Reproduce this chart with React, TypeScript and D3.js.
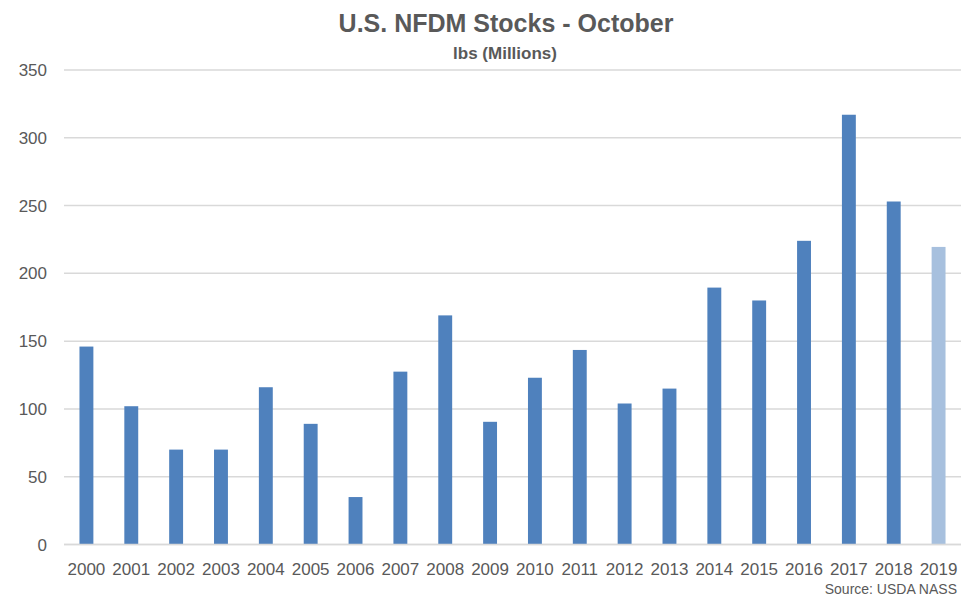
import React, { useEffect, useRef } from 'react';
import * as d3 from 'd3';

const years = ['2000', '2001', '2002', '2003', '2004', '2005', '2006', '2007', '2008', '2009',
  '2010', '2011', '2012', '2013', '2014', '2015', '2016', '2017', '2018', '2019'];
const stocks = [146, 102, 70, 70, 116, 89, 35, 127.5, 169, 90.5,
  123, 143.5, 104, 115, 189.5, 180, 224, 317, 253, 219.5];
const yTicks = [0, 50, 100, 150, 200, 250, 300, 350];

const width = 975;
const height = 601;
const margin = { top: 70, right: 14, bottom: 56.5, left: 64 };

export default function App() {
  const svgRef = useRef<SVGSVGElement>(null);

  function loadGraph(elm: SVGSVGElement) {
    const svg = d3.select(elm);
    svg.selectAll('*').remove();

    const x = d3.scaleBand<string>()
      .domain(years)
      .range([margin.left, width - margin.right])
      .paddingInner(0.69)
      .paddingOuter(0.345);

    const y = d3.scaleLinear()
      .domain([0, 350])
      .range([height - margin.bottom, margin.top]);

    // gridlines
    svg.append('g')
      .selectAll('line')
      .data(yTicks)
      .enter()
      .append('line')
      .attr('x1', margin.left)
      .attr('x2', width - margin.right)
      .attr('y1', d => y(d))
      .attr('y2', d => y(d))
      .attr('stroke', '#d9d9d9')
      .attr('stroke-width', 1.5);

    svg.append('g')
      .selectAll('text')
      .data(yTicks)
      .enter()
      .append('text')
      .text(d => d)
      .attr('x', 47)
      .attr('y', d => y(d) + 6)
      .attr('text-anchor', 'end')
      .attr('font-size', '17px')
      .attr('fill', '#595959');

    svg.append('g')
      .selectAll('rect')
      .data(stocks)
      .enter()
      .append('rect')
      .attr('x', (d, i) => x(years[i])!)
      .attr('width', x.bandwidth())
      .attr('y', d => y(d))
      .attr('height', d => y(0) - y(d))
      .attr('fill', (d, i) => i === years.length - 1 ? '#a7c0de' : '#4f81bd');

    // redraw zero line above the bars
    svg.append('line')
      .attr('x1', margin.left)
      .attr('x2', width - margin.right)
      .attr('y1', y(0))
      .attr('y2', y(0))
      .attr('stroke', '#d9d9d9')
      .attr('stroke-width', 1.5);

    svg.append('g')
      .selectAll('text')
      .data(years)
      .enter()
      .append('text')
      .text(d => d)
      .attr('x', d => x(d)! + x.bandwidth() / 2)
      .attr('y', 575)
      .attr('text-anchor', 'middle')
      .attr('font-size', '17px')
      .attr('fill', '#595959');

    svg.append('text')
      .text('U.S. NFDM Stocks - October')
      .attr('x', 506)
      .attr('y', 32)
      .attr('text-anchor', 'middle')
      .attr('font-size', '25px')
      .attr('font-weight', 'bold')
      .attr('fill', '#595959');

    svg.append('text')
      .text('lbs (Millions)')
      .attr('x', 505)
      .attr('y', 59)
      .attr('text-anchor', 'middle')
      .attr('font-size', '17px')
      .attr('font-weight', 'bold')
      .attr('fill', '#595959');

    svg.append('text')
      .text('Source: USDA NASS')
      .attr('x', 957)
      .attr('y', 594)
      .attr('text-anchor', 'end')
      .attr('font-size', '14px')
      .attr('fill', '#595959');
  }

  useEffect(() => {
    if (svgRef.current) {
      loadGraph(svgRef.current);
    }
  }, []);

  return (
    <svg
      ref={svgRef}
      width={width}
      height={height}
      style={{ position: 'absolute', left: 0, top: 0, fontFamily: '"Liberation Sans", Arial, sans-serif', background: '#fff' }}
    ></svg>
  );
}
